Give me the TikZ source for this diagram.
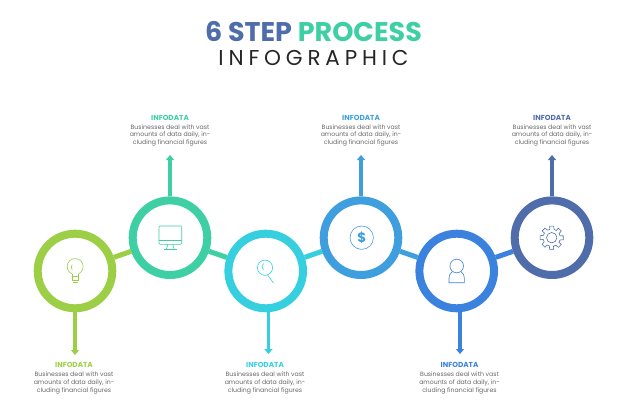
\documentclass[tikz,border=0pt]{standalone}
\usepackage{fontspec}
\usepackage{xcolor}
\usetikzlibrary{arrows.meta}
\setmainfont{Poppins}
\newfontfamily\spaced[LetterSpace=22.5]{Poppins}
\definecolor{lime}{HTML}{9CCF45}
\definecolor{mint}{HTML}{3ECFA5}
\definecolor{aqua}{HTML}{35CFE0}
\definecolor{sky}{HTML}{3F9FDE}
\definecolor{royal}{HTML}{3B82DE}
\definecolor{slate}{HTML}{4F6DAA}
\definecolor{bodygrey}{HTML}{666666}
\newcommand{\Bs}{Businesses deal with vast\\amounts of data daily, in-\\cluding financial figures}
\newcommand{\Id}{INFODATA}
\tikzset{
    ring/.style={circle,draw=#1,line width=8pt,minimum size=74.6pt,inner sep=0pt},
    link/.style={draw=#1,line width=5pt},
    pointer/.style={draw=#1,line width=3.2pt,-{Triangle[length=5pt,width=8pt]}},
    heading/.style={text=#1,font=\fontsize{7.3}{8}\selectfont\bfseries,inner sep=0pt},
    blurb/.style={text=bodygrey,font=\fontsize{6.2}{7.7}\selectfont,align=center,inner sep=0pt},
    icon/.style={draw=#1,line width=0.6pt}
}
\begin{document}
\begin{tikzpicture}[x=1pt,y=-1pt]
    \useasboundingbox (0,0) rectangle (626,417);
    \node[inner sep=0pt] (title) at (313.5,31.5) {\fontsize{27}{32}\selectfont\bfseries\textcolor{slate}{6 STEP} \textcolor{mint}{PROCESS}};
    \node[inner sep=0pt,text=black!85] (subtitle) at (313.5,57.5) {\fontsize{21.5}{26}\selectfont\spaced INFOGRAPHIC};
    % rings
    \node[ring=lime] (c1) at (75,271) {};
    \node[ring=mint] (c2) at (170,237.7) {};
    \node[ring=aqua] (c3) at (265.7,271) {};
    \node[ring=sky] (c4) at (361,237.7) {};
    \node[ring=royal] (c5) at (456.7,271) {};
    \node[ring=slate] (c6) at (552,237.7) {};
    % links
    \draw[link=lime] (c1) -- (c2);
    \draw[link=mint] (c2) -- (c3);
    \draw[link=aqua] (c3) -- (c4);
    \draw[link=sky] (c4) -- (c5);
    \draw[link=royal] (c5) -- (c6);
    % pointers
    \coordinate (t1) at (75,355);
    \coordinate (t2) at (170,155);
    \coordinate (t3) at (268.5,354);
    \coordinate (t4) at (361,155);
    \coordinate (t5) at (460,354);
    \coordinate (t6) at (552,155);
    \draw[pointer=lime] (c1.south -| t1) -- (t1);
    \draw[pointer=mint] (c2) -- (t2);
    \draw[pointer=aqua] (c3.south -| t3) -- (t3);
    \draw[pointer=sky] (c4) -- (t4);
    \draw[pointer=royal] (c5.south -| t5) -- (t5);
    \draw[pointer=slate] (c6) -- (t6);
    % labels
    \node[heading=lime] (h1) at (74,365) {\Id};
    \node[blurb] (b1) at (74,383) {\Bs};
    \node[heading=mint] (h2) at (170,118) {\Id};
    \node[blurb] (b2) at (170,135.2) {\Bs};
    \node[heading=aqua] (h3) at (265,365) {\Id};
    \node[blurb] (b3) at (265,383) {\Bs};
    \node[heading=sky] (h4) at (361,118) {\Id};
    \node[blurb] (b4) at (361,135.2) {\Bs};
    \node[heading=royal] (h5) at (459.5,365) {\Id};
    \node[blurb] (b5) at (459.5,383) {\Bs};
    \node[heading=slate] (h6) at (552,118) {\Id};
    \node[blurb] (b6) at (552,135.2) {\Bs};
    % bulb
    \draw[icon=lime] (71.8,273.8) arc (115:425:8) ;
    \draw[icon=lime] (71.8,273.8) -- (71.8,280) -- (78.2,280) -- (78.2,273.8);
    \draw[icon=lime] (71.8,276.5) -- (78.2,276.5);
    \draw[icon=lime] (72.5,282.5) -- (77.5,282.5);
    \draw[icon=lime] (72.2,264.5) .. controls (71,266.5) and (71,268) .. (72.2,270);
    % monitor
    \draw[icon=mint,rounded corners=1pt] (159,226) rectangle (181.7,244.3);
    \draw[icon=mint] (159,240.7) -- (181.7,240.7);
    \draw[icon=mint] (168,244.3) -- (166.5,249) (172.7,244.3) -- (174.2,249);
    \draw[icon=mint] (164,249.5) -- (176.7,249.5);
    % magnifier
    \draw[icon=aqua] (265,267.7) circle (7.6);
    \draw[icon=aqua] (267.5,275) -- (273.3,282.7);
    \draw[icon=aqua] (263.5,263.5) .. controls (261.5,265.5) and (261.5,268) .. (263.5,270);
    % dollar
    \draw[icon=sky] (361.7,237.7) circle (11.7);
    \node[text=sky,inner sep=0pt] (dollar) at (361.7,237.7) {\fontsize{13.5}{14}\selectfont\bfseries\$};
    % person
    \draw[icon=royal] (456.7,266) circle (6.8);
    \draw[icon=royal] (452.5,271.5) .. controls (450,273.5) and (449,275.5) .. (449,278) -- (449,282.7) -- (464.3,282.7) -- (464.3,278) .. controls (464.3,275.5) and (463.4,273.5) .. (461,271.5);
    % gear
    \draw[icon=slate] (551.7,237.7) circle (5.2);
    \draw[icon=slate,line join=round,shift={(551.7,237.7)}] (-12:8.6)
        \foreach \a in {0,45,...,315} {
            -- (\a-10:11.7) -- (\a+10:11.7) -- (\a+16:8.6) arc (\a+16:\a+33:8.6)
        } -- cycle;
\end{tikzpicture}
\end{document}
